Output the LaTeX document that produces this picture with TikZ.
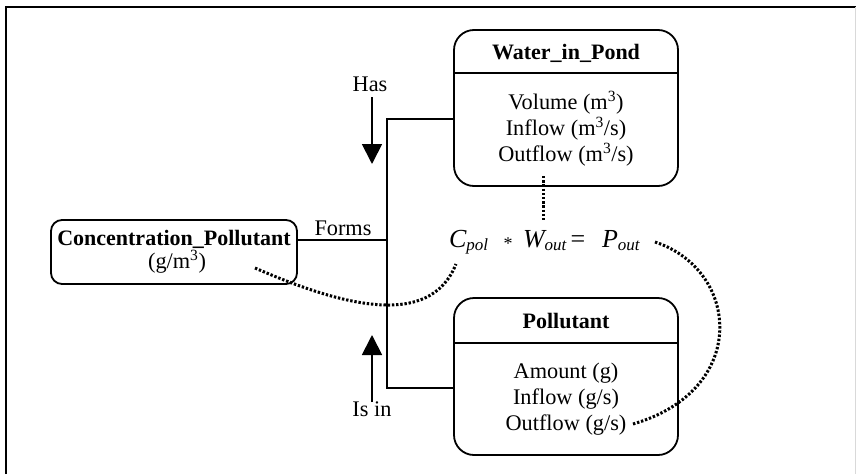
\documentclass[tikz,border=0pt]{standalone}
\usepackage{fontspec}
\setmainfont{Liberation Serif}
\usetikzlibrary{arrows.meta}
\newcommand{\eqvar}[2]{{\fontsize{26}{30}\selectfont\itshape #1}\raisebox{-3pt}{\fontsize{17}{20}\selectfont\itshape #2}}
\begin{document}
\begin{tikzpicture}[x=1pt,y=-1pt,
  every node/.style={inner sep=0pt,outer sep=0pt},
  txt/.style={font=\fontsize{22.3}{26}\selectfont, align=center},
  ttl/.style={font=\fontsize{22}{26}\selectfont\bfseries},
  classbox/.style={draw, line width=1.8pt, rounded corners=20pt},
  conn/.style={line width=1.6pt},
  arr/.style={line width=1.8pt, -{Triangle[width=20pt,length=20pt]}},
  dots/.style={line width=3pt, dash pattern=on 2.4pt off 1.8pt}
]
\useasboundingbox (0,0) rectangle (856,474);
\fill[white] (0,0) rectangle (856,474);
% frame
\draw[line width=2pt] (6,474) -- (6,7) -- (856,7);
\draw[line width=0.6pt, black!15] (855,7) -- (855,474);

% Water_in_Pond
\draw[classbox] (454,30) rectangle (678,186);
\coordinate (wdivl) at (454,73);
\coordinate (wdivr) at (678,73);
\draw[conn] (wdivl) -- (wdivr);
\node[ttl] (wtitle) at (566,53) {Water\_in\_Pond};
\node[txt, anchor=base] (wvol) at (566,109) {Volume (m\textsuperscript{3})};
\node[txt, anchor=base] (win) at (566,135) {Inflow (m\textsuperscript{3}/s)};
\node[txt, anchor=base] (wout) at (566,161) {Outflow (m\textsuperscript{3}/s)};
\coordinate (water) at (454,119);

% Pollutant
\draw[classbox] (454,298) rectangle (678,455);
\coordinate (pdivl) at (454,343);
\coordinate (pdivr) at (678,343);
\draw[conn] (pdivl) -- (pdivr);
\node[ttl] (ptitle) at (566,321) {Pollutant};
\node[txt, anchor=base] (pamt) at (566,378) {Amount (g)};
\node[txt, anchor=base] (pin) at (566,404) {Inflow (g/s)};
\node[txt, anchor=base] (pout) at (566,430) {Outflow (g/s)};
\coordinate (poll) at (454,388);

% Concentration_Pollutant
\draw[line width=1.8pt, rounded corners=11pt] (51,220) rectangle (297,284);
\node[ttl, anchor=base] (ctitle) at (174,245) {Concentration\_Pollutant};
\node[txt, anchor=base] (cunit) at (177,268) {(g/m\textsuperscript{3})};
\coordinate (conc) at (297,240);

% bus
\coordinate (bt) at (387,119);
\coordinate (bb) at (387,388);
\coordinate (bm) at (387,240);
\draw[conn] (water) -- (bt) -- (bb) -- (poll);
\draw[conn] (conc) -- (bm);
\node[txt, anchor=base] (forms) at (343,235) {Forms};

% arrows
\node[txt, anchor=base] (has) at (370,91) {Has};
\coordinate (hs) at (372,97);
\coordinate (he) at (372,164);
\draw[arr] (hs) -- (he);
\node[txt, anchor=base] (isin) at (372,416) {Is in};
\coordinate (is) at (372,402);
\coordinate (ie) at (372,335);
\draw[arr] (is) -- (ie);

% equation
\node[anchor=base west] (cpol) at (449,247) {\eqvar{C}{pol}};
\node[font=\fontsize{18}{20}\selectfont] (star) at (508,244) {*};
\node[anchor=base west] (wouteq) at (523,247) {\eqvar{W}{out}{\fontsize{26}{30}\selectfont\,= }};
\node[anchor=base west] (pouteq) at (602,247) {\eqvar{P}{out}};

% dotted links
\coordinate (d1s) at (543,176);
\coordinate (d1e) at (543,222);
\draw[dots] (d1s) -- (d1e);
\coordinate (d2s) at (255,268);
\coordinate (d2e) at (456,264);
\draw[dots] (d2s) .. controls (340,305) and (430,330) .. (d2e);
\coordinate (d3s) at (655,242);
\coordinate (d3e) at (633,424);
\draw[dots] (d3s) .. controls (740,270) and (750,390) .. (d3e);
\end{tikzpicture}
\end{document}
